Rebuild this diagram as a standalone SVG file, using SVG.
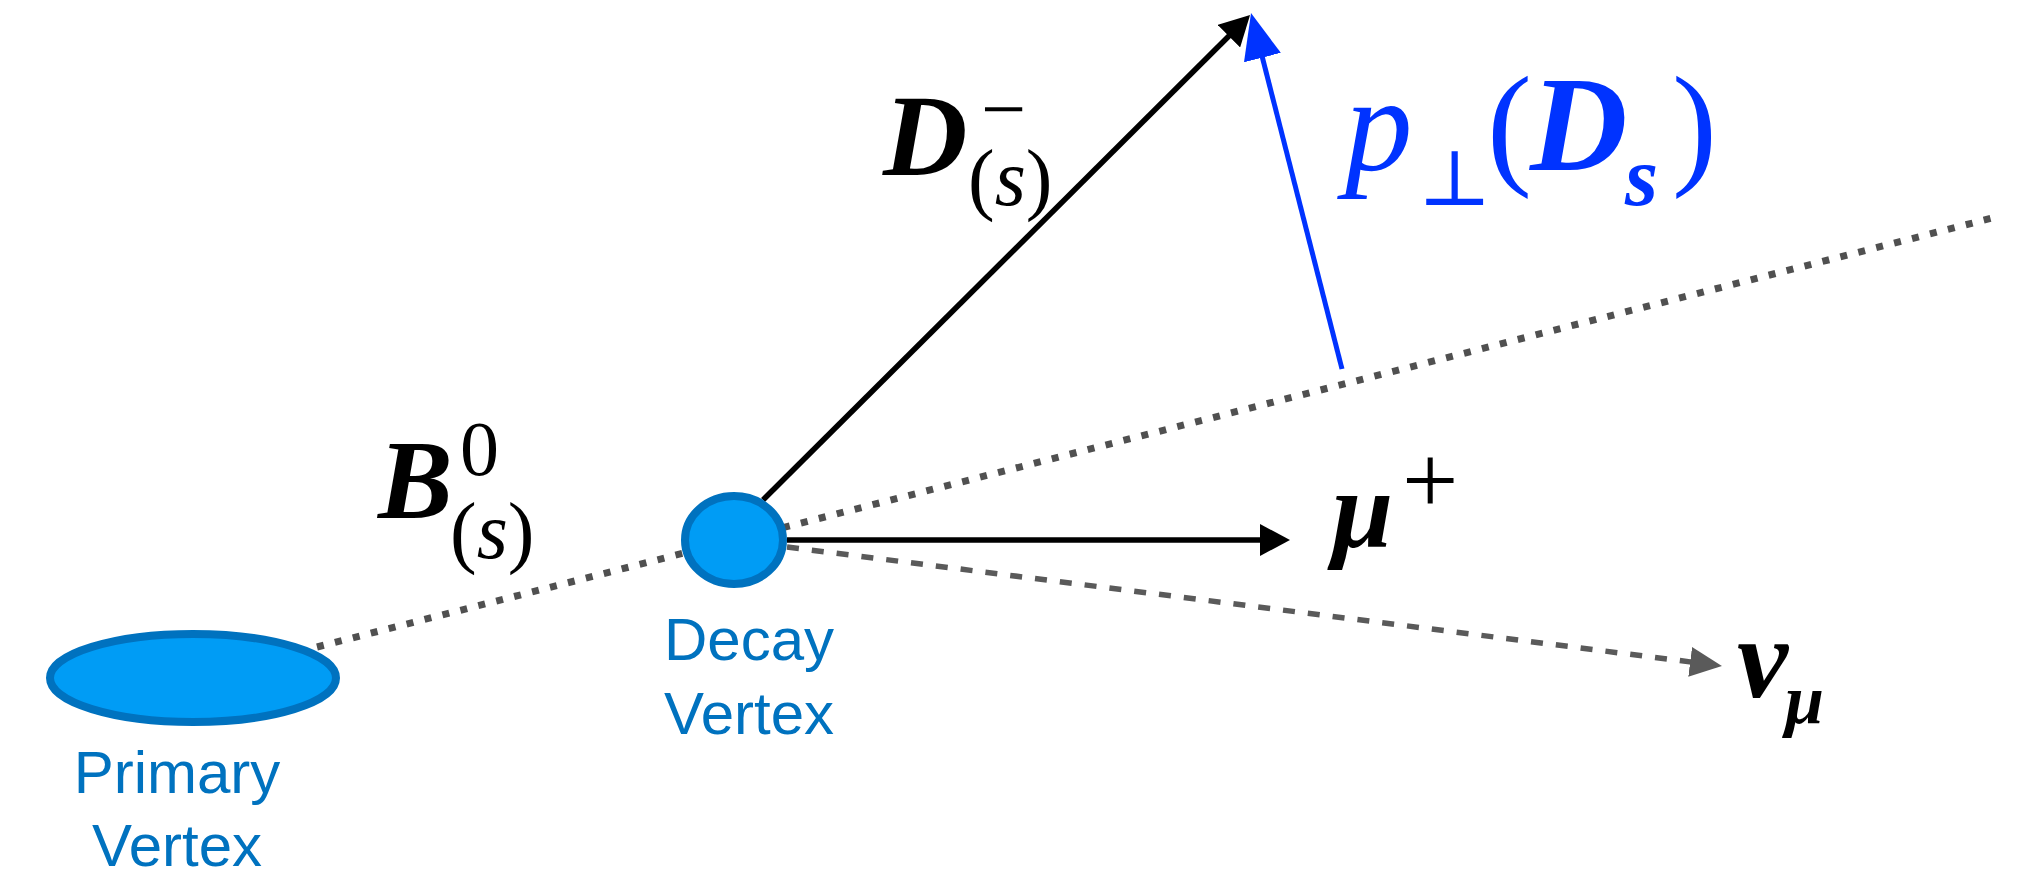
<svg xmlns="http://www.w3.org/2000/svg" width="2018" height="879" viewBox="0 0 2018 879">
<style>
.vtx{fill:#009CF5;stroke:#0072BF;stroke-width:8}
.lbl{font-family:"Liberation Sans",Arial,sans-serif;font-size:60px;fill:#0072BF;text-anchor:middle}
.m{font-family:"Liberation Serif","Times New Roman","DejaVu Serif",serif;fill:#000}
.bi{font-weight:bold;font-style:italic}
.it{font-style:italic}
.up{font-style:normal;font-weight:normal}
.blue{fill:#0033FF}
.dot{stroke:#505050;stroke-width:7;stroke-dasharray:7 11.5;fill:none}
.dash{stroke:#5a5a5a;stroke-width:5.5;stroke-dasharray:12 13;fill:none}
.trk{stroke:#000;stroke-width:5.5;fill:none}
.ptrk{stroke:#0033FF;stroke-width:5;fill:none}
</style>
<defs>
<marker id="ahB" markerUnits="userSpaceOnUse" markerWidth="30" markerHeight="32" refX="20" refY="16" orient="auto"><path d="M0,0 L30,16 L0,32 z" fill="#000"/></marker>
<marker id="ahG" markerUnits="userSpaceOnUse" markerWidth="32" markerHeight="30" refX="22" refY="15" orient="auto"><path d="M0,0 L32,15 L0,30 z" fill="#5a5a5a"/></marker>
<marker id="ahU" markerUnits="userSpaceOnUse" markerWidth="46" markerHeight="38" refX="36" refY="19" orient="auto"><path d="M0,0 L46,19 L0,38 z" fill="#0033FF"/></marker>
</defs>
<g id="connectors">
<line class="dot" x1="317" y1="647" x2="2000" y2="216"/>
<line class="dash" x1="787" y1="547" x2="1712" y2="664.7" marker-end="url(#ahG)"/>
<line class="trk" x1="787" y1="540" x2="1280" y2="540" marker-end="url(#ahB)"/>
<line class="trk" x1="763" y1="500" x2="1243" y2="22" marker-end="url(#ahB)"/>
<line class="ptrk" x1="1342" y1="369" x2="1253.5" y2="22.7" marker-end="url(#ahU)"/>
</g>
<g id="primary-vertex">
<ellipse class="vtx" cx="193" cy="678" rx="143" ry="44"/>
<text class="lbl" x="177" y="793">Primary</text>
<text class="lbl" x="177" y="866">Vertex</text>
</g>
<g id="decay-vertex">
<ellipse class="vtx" cx="734" cy="540" rx="49" ry="44"/>
<text class="lbl" x="749" y="660">Decay</text>
<text class="lbl" x="749" y="734">Vertex</text>
</g>
<g id="label-B">
<text class="m bi" x="378" y="518" font-size="112">B</text>
<text class="m up" x="460" y="475" font-size="78">0</text>
<text class="m up" x="450" y="558" font-size="80">(<tspan class="it">s</tspan>)</text>
</g>
<g id="label-D">
<text class="m bi" x="883" y="175" font-size="117">D</text>
<text class="m up" x="981" y="136" font-size="80" font-weight="bold">−</text>
<text class="m up" x="968" y="205" font-size="80">(<tspan class="it">s</tspan>)</text>
</g>
<g id="label-pperp">
<text class="m it blue" x="1345" y="170" font-size="135">p</text>
<text class="m up blue" x="1418" y="205" font-size="78">⊥</text>
<text class="m up blue" x="1487" y="170" font-size="135">(</text>
<text class="m bi blue" x="1530" y="170" font-size="135">D</text>
<text class="m bi blue" x="1625" y="205" font-size="85">s</text>
<text class="m up blue" x="1672" y="170" font-size="135">)</text>
</g>
<g id="label-mu">
<text class="m bi" x="1332" y="547" font-size="110">μ</text>
<text class="m up" x="1402" y="514" font-size="100">+</text>
</g>
<g id="label-nu">
<text class="m bi" x="1737" y="697" font-size="115">ν</text>
<text class="m bi" x="1785" y="723" font-size="70">μ</text>
</g>
</svg>
